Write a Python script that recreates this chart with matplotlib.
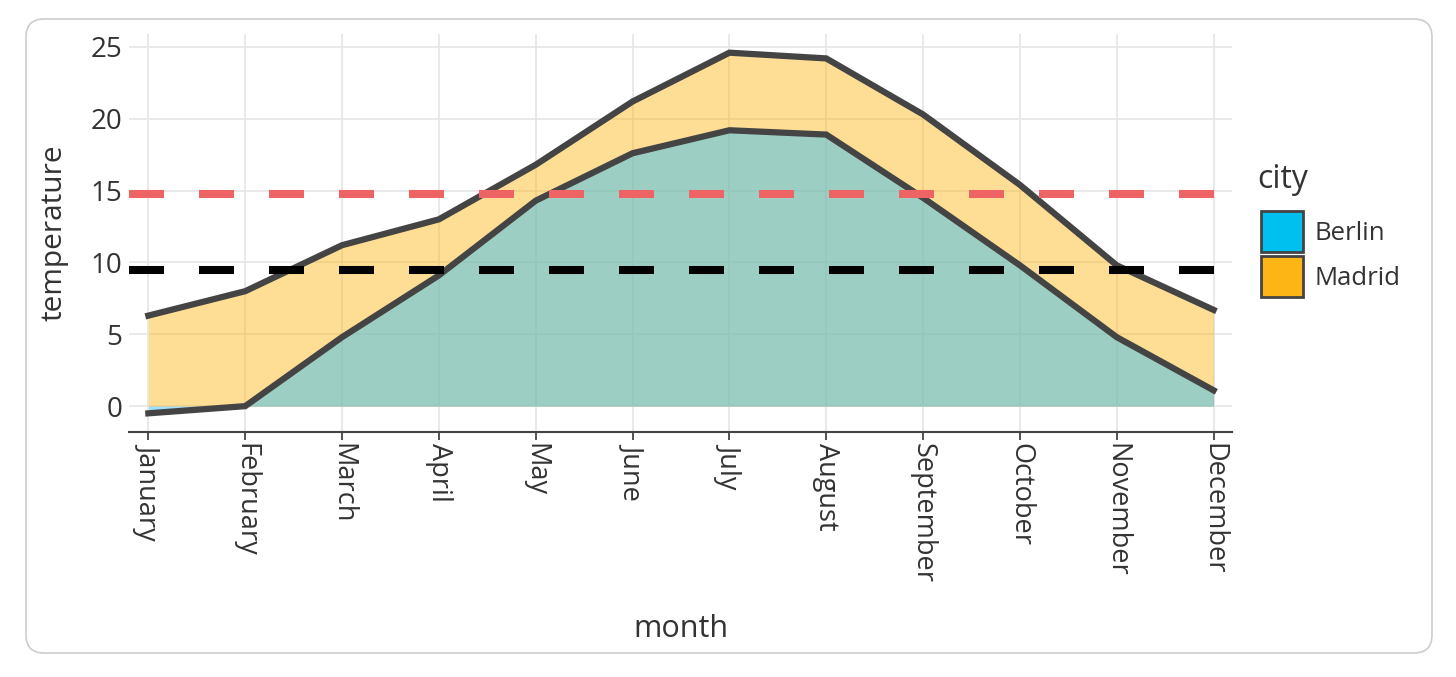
import numpy as np
import matplotlib
matplotlib.use("Agg")
import matplotlib.pyplot as plt
from matplotlib.patches import Patch, FancyBboxPatch
from matplotlib.transforms import IdentityTransform

plt.rcParams['font.family'] = ['Open Sans', 'DejaVu Sans']

# monthly mean temperature
months = ["January", "February", "March", "April", "May", "June", "July",
          "August", "September", "October", "November", "December"]
berlin = [-0.5, 0.0, 4.8, 9.1, 14.3, 17.6, 19.2, 18.9, 14.5, 9.8, 4.8, 1.1]
madrid = [6.3, 8.0, 11.2, 13.0, 16.8, 21.2, 24.6, 24.2, 20.3, 15.4, 9.8, 6.7]
yticks = [0, 5, 10, 15, 20, 25]

txt = '#333333'
x = np.arange(len(months))

fig = plt.figure(figsize=(14.56, 6.77), dpi=100)
ax = fig.add_axes([129 / 1456, 1 - 432 / 677, (1232 - 129) / 1456, (432 - 34) / 677])

# areas (Berlin drawn over Madrid)
ax.fill_between(x, 0, madrid, color='#FDB515', alpha=0.45, lw=0, zorder=2)
ax.fill_between(x, 0, berlin, color='#3EC0F4', alpha=0.5, lw=0, zorder=3)
ax.plot(x, madrid, color='#444444', lw=4.5, solid_joinstyle='miter', zorder=4)
ax.plot(x, berlin, color='#444444', lw=4.5, solid_joinstyle='miter', zorder=4)

# mean lines
lw = 5.8
ax.axhline(np.mean(madrid), color='#EE6363', lw=lw, ls=(0, (25.2 / lw, 25.2 / lw)),
           dash_capstyle='butt', zorder=5)
ax.axhline(np.mean(berlin), color='black', lw=lw, ls=(0, (25.2 / lw, 25.2 / lw)),
           dash_capstyle='butt', zorder=5)

ax.set_xlim(-0.2, 11.19)
ax.set_ylim(-1.8, 25.9)
ax.set_xticks(x)
ax.set_xticklabels(months, rotation=-90, fontsize=19.5, color=txt)
ax.set_yticks(yticks)
ax.set_yticklabels([str(v) for v in yticks], fontsize=20, color=txt)
ax.tick_params(axis='x', direction='out', length=6, width=1.3, color='#444444', pad=2)
ax.tick_params(axis='y', length=0, pad=5)
ax.grid(True, color='#E5E5E5', lw=1.2, zorder=0)
ax.set_axisbelow(True)
for s in ['top', 'right', 'left']:
    ax.spines[s].set_visible(False)
ax.spines['bottom'].set_color('#444444')
ax.spines['bottom'].set_linewidth(1.5)

ax.set_xlabel("month", fontsize=22, color=txt, labelpad=22)
ax.set_ylabel("temperature", fontsize=21.5, color=txt, labelpad=16)

# legend
fig.text(1257 / 1456, 1 - 180 / 677, "city", fontsize=23, color=txt, ha='left', va='center')
handles = [Patch(facecolor='#00C0EF', edgecolor='#444444', lw=2, label='Berlin'),
           Patch(facecolor='#FDB515', edgecolor='#444444', lw=2, label='Madrid')]
leg = fig.legend(handles=handles, loc='upper left',
                 bbox_to_anchor=(1248 / 1456, 1 - 198 / 677), frameon=False,
                 fontsize=18.5, handlelength=1.65, handleheight=2.1,
                 labelspacing=0.15, handletextpad=0.45, borderpad=0)
for t in leg.get_texts():
    t.set_color(txt)

# rounded card border
card = FancyBboxPatch((26, 24), 1406, 634, boxstyle="round,pad=0,rounding_size=18",
                      transform=IdentityTransform(), facecolor='none',
                      edgecolor='#CCCCCC', lw=1.2)
fig.patches.append(card)

fig.savefig("out.png", dpi=100)
